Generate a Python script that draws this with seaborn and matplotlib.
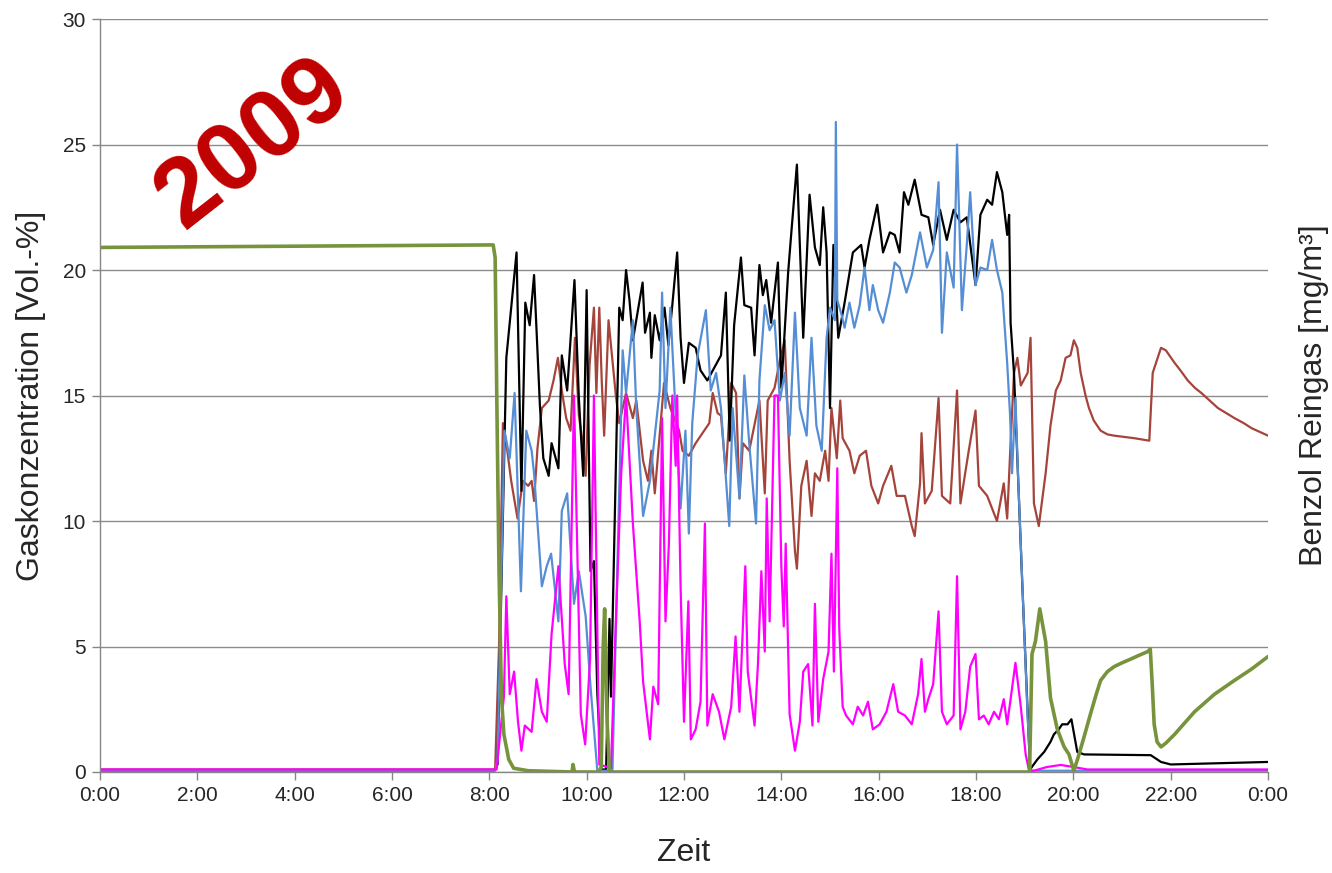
import matplotlib
matplotlib.use("Agg")
import matplotlib.pyplot as plt
import seaborn as sns
import pandas as pd

# (hour of day, value)
black_pts = [(0, 0.05), (8.1, 0.05), (8.17, 0.3), (8.35, 16.5), (8.56, 20.7), (8.66, 11.2), (8.74, 18.7),
             (8.83, 17.8), (8.92, 19.8), (9.04, 14.6), (9.11, 12.5), (9.22, 11.8), (9.28, 13.1), (9.42, 12.1),
             (9.49, 16.6), (9.6, 15.2), (9.75, 19.6), (9.84, 14.9), (9.93, 11.8), (10.0, 19.2), (10.08, 8.0),
             (10.15, 8.4), (10.22, 3.1), (10.3, 0.1), (10.4, 0.1), (10.47, 6.1), (10.5, 3.0), (10.67, 18.5),
             (10.74, 18.0), (10.81, 20.0), (10.88, 18.8), (10.95, 17.2), (11.15, 19.5), (11.2, 17.5),
             (11.3, 18.3), (11.33, 16.5), (11.4, 18.2), (11.5, 17.2), (11.6, 18.5), (11.68, 17.0),
             (11.76, 18.6), (11.86, 20.7), (11.93, 17.3), (12.0, 15.5), (12.1, 17.1), (12.24, 16.9),
             (12.34, 16.0), (12.48, 15.6), (12.62, 16.1), (12.76, 16.6), (12.86, 19.1), (12.94, 13.2),
             (13.03, 17.8), (13.17, 20.5), (13.24, 18.6), (13.38, 18.5), (13.45, 16.6), (13.55, 20.2),
             (13.62, 19.0), (13.69, 19.6), (13.79, 17.9), (13.93, 20.3), (14.0, 15.3), (14.14, 19.9),
             (14.21, 21.6), (14.32, 24.2), (14.45, 17.3), (14.58, 23.0), (14.69, 20.9), (14.79, 20.2),
             (14.86, 22.5), (14.93, 20.7), (15.0, 14.5), (15.07, 21.0), (15.17, 17.3), (15.3, 18.7),
             (15.47, 20.7), (15.64, 21.0), (15.71, 20.1), (15.81, 21.2), (15.97, 22.6), (16.09, 20.7),
             (16.23, 21.5), (16.33, 21.4), (16.43, 20.7), (16.52, 23.1), (16.61, 22.6), (16.74, 23.6),
             (16.88, 22.2), (17.02, 22.1), (17.12, 21.0), (17.26, 22.4), (17.4, 21.2), (17.54, 22.4),
             (17.68, 21.9), (17.81, 22.1), (17.99, 19.4), (18.09, 22.2), (18.23, 22.8), (18.33, 22.6),
             (18.43, 23.9), (18.54, 23.1), (18.64, 21.4), (18.68, 22.2), (18.71, 17.9), (18.78, 15.9),
             (18.95, 7.5), (19.11, 0.1), (19.26, 0.5), (19.4, 0.8), (19.53, 1.2), (19.6, 1.5), (19.7, 1.7),
             (19.77, 1.9), (19.88, 1.9), (19.96, 2.1), (20.08, 0.8), (20.22, 0.7), (21.59, 0.67),
             (21.8, 0.4), (22.0, 0.3), (24.0, 0.4)]

blue_pts = [(0, 0.05), (8.12, 0.05), (8.17, 0.5), (8.31, 13.6), (8.42, 12.5), (8.52, 15.1), (8.65, 7.2),
            (8.76, 13.6), (8.87, 12.8), (8.92, 11.9), (9.08, 7.4), (9.18, 8.2), (9.27, 8.7), (9.42, 6.0),
            (9.49, 10.4), (9.6, 11.1), (9.74, 6.7), (9.84, 8.0), (9.98, 6.2), (10.08, 3.4), (10.22, 0.05),
            (10.53, 0.05), (10.74, 16.8), (10.81, 15.1), (10.95, 18.0), (11.02, 14.5), (11.16, 10.2),
            (11.3, 11.6), (11.5, 15.2), (11.55, 19.1), (11.62, 14.5), (11.72, 18.5), (11.83, 14.2),
            (11.93, 10.5), (12.03, 13.6), (12.1, 9.5), (12.17, 13.9), (12.28, 16.6), (12.45, 18.4),
            (12.55, 15.2), (12.66, 15.9), (12.76, 14.5), (12.93, 9.8), (13.0, 14.5), (13.14, 10.9),
            (13.24, 15.8), (13.34, 13.1), (13.48, 9.9), (13.55, 15.6), (13.66, 18.6), (13.76, 17.6),
            (13.86, 18.0), (13.97, 14.8), (14.07, 15.9), (14.17, 13.4), (14.28, 18.3), (14.38, 14.5),
            (14.52, 13.4), (14.62, 17.3), (14.72, 13.8), (14.83, 12.8), (14.93, 17.3), (15.0, 18.5),
            (15.1, 18.0), (15.12, 25.9), (15.15, 18.8), (15.24, 18.2), (15.3, 17.7), (15.4, 18.7),
            (15.5, 17.7), (15.61, 18.6), (15.71, 20.1), (15.81, 18.4), (15.88, 19.4), (15.99, 18.4),
            (16.09, 17.9), (16.23, 19.1), (16.33, 20.3), (16.43, 20.1), (16.57, 19.1), (16.68, 19.8),
            (16.85, 21.5), (16.99, 20.1), (17.12, 20.8), (17.23, 23.5), (17.3, 17.5), (17.4, 20.7),
            (17.54, 19.3), (17.61, 25.0), (17.71, 18.4), (17.81, 21.0), (17.88, 23.1), (17.99, 19.4),
            (18.09, 20.1), (18.23, 20.0), (18.33, 21.2), (18.43, 20.0), (18.54, 19.1), (18.64, 16.3),
            (18.7, 14.2), (18.74, 11.9), (18.81, 14.9), (18.86, 12.0), (19.06, 2.2), (19.12, 0.05),
            (24, 0.05)]

brown_pts = [(0, 0.1), (8.12, 0.1), (8.2, 5.0), (8.28, 13.9), (8.35, 13.1), (8.45, 11.6), (8.58, 10.1),
             (8.69, 11.6), (8.8, 11.4), (8.87, 11.6), (8.92, 10.8), (8.99, 12.9), (9.08, 14.5), (9.22, 14.8),
             (9.32, 15.6), (9.41, 16.5), (9.49, 15.2), (9.58, 14.1), (9.67, 13.6), (9.76, 17.3), (9.84, 14.2),
             (9.92, 13.1), (9.98, 11.8), (10.06, 16.2), (10.15, 18.5), (10.2, 15.1), (10.26, 18.5),
             (10.31, 15.6), (10.36, 13.4), (10.45, 18.0), (10.6, 15.0), (10.67, 13.9), (10.81, 15.1),
             (10.95, 14.1), (11.02, 14.8), (11.16, 12.4), (11.26, 11.6), (11.33, 12.8), (11.4, 11.1),
             (11.59, 15.5), (11.72, 14.5), (11.9, 13.6), (11.97, 12.8), (12.1, 12.6), (12.24, 13.1),
             (12.38, 13.5), (12.52, 13.9), (12.59, 15.1), (12.69, 14.3), (12.76, 14.2), (12.86, 11.9),
             (12.97, 15.5), (13.07, 15.1), (13.14, 10.9), (13.21, 13.1), (13.34, 12.8), (13.55, 14.8),
             (13.66, 11.1), (13.72, 14.8), (13.86, 15.3), (13.97, 16.4), (14.07, 17.2), (14.17, 12.4),
             (14.28, 8.8), (14.32, 8.1), (14.41, 11.4), (14.52, 12.4), (14.62, 10.2), (14.69, 11.9),
             (14.79, 11.6), (14.9, 12.8), (14.97, 11.6), (15.03, 14.5), (15.14, 12.5), (15.21, 14.8),
             (15.26, 13.3), (15.4, 12.8), (15.5, 11.9), (15.61, 12.6), (15.74, 12.8), (15.85, 11.4),
             (15.99, 10.7), (16.09, 11.4), (16.26, 12.2), (16.37, 11.0), (16.54, 11.0), (16.68, 9.8),
             (16.74, 9.4), (16.85, 11.5), (16.88, 13.5), (16.95, 10.7), (17.09, 11.2), (17.23, 14.9),
             (17.3, 11.0), (17.47, 10.7), (17.61, 15.2), (17.68, 10.7), (17.85, 12.8), (17.99, 14.4),
             (18.06, 11.4), (18.23, 11.0), (18.43, 10.0), (18.57, 11.5), (18.64, 10.1), (18.71, 13.1),
             (18.78, 15.9), (18.85, 16.5), (18.92, 15.4), (19.06, 15.9), (19.12, 17.3), (19.19, 10.7),
             (19.29, 9.8), (19.43, 11.9), (19.53, 13.8), (19.64, 15.2), (19.74, 15.6), (19.84, 16.5),
             (19.94, 16.6), (20.01, 17.2), (20.08, 16.9), (20.15, 15.9), (20.25, 15.0), (20.32, 14.5),
             (20.42, 14.0), (20.56, 13.6), (20.7, 13.45), (20.84, 13.4), (21.25, 13.3), (21.56, 13.2),
             (21.63, 15.9), (21.8, 16.9), (21.9, 16.8), (22.08, 16.3), (22.2, 16.0), (22.35, 15.6),
             (22.5, 15.3), (22.63, 15.1), (22.8, 14.8), (22.97, 14.5), (23.14, 14.3), (23.31, 14.1),
             (23.5, 13.9), (23.66, 13.7), (23.83, 13.55), (24, 13.4)]

magenta_pts = [(0, 0.1), (8.15, 0.1), (8.3, 3.0), (8.35, 7.0), (8.42, 3.1), (8.51, 4.0), (8.59, 2.0),
               (8.66, 0.85), (8.73, 1.85), (8.87, 1.6), (8.97, 3.7), (9.08, 2.4), (9.18, 2.0), (9.28, 5.5),
               (9.42, 8.2), (9.55, 4.3), (9.63, 3.1), (9.74, 15.0), (9.88, 2.3), (9.97, 1.1), (10.07, 4.5),
               (10.15, 15.0), (10.26, 0.3), (10.5, 0.15), (10.6, 6.0), (10.71, 11.9), (10.81, 15.0),
               (10.95, 9.9), (11.09, 6.0), (11.16, 3.6), (11.3, 1.3), (11.37, 3.4), (11.47, 2.7),
               (11.55, 14.1), (11.62, 6.0), (11.69, 9.1), (11.76, 15.0), (11.83, 12.2), (11.86, 15.0),
               (11.93, 7.4), (12.0, 2.0), (12.09, 6.8), (12.14, 1.3), (12.24, 1.7), (12.34, 2.8),
               (12.43, 9.9), (12.48, 1.85), (12.59, 3.1), (12.72, 2.4), (12.83, 1.3), (12.97, 2.6),
               (13.06, 5.4), (13.14, 2.4), (13.26, 8.2), (13.31, 4.0), (13.45, 1.85), (13.52, 4.3),
               (13.59, 8.0), (13.66, 4.8), (13.7, 10.9), (13.76, 6.0), (13.86, 15.0), (13.93, 15.0),
               (14.0, 8.2), (14.05, 5.8), (14.09, 9.1), (14.17, 2.3), (14.28, 0.85), (14.38, 2.0),
               (14.45, 4.0), (14.55, 4.3), (14.64, 1.85), (14.69, 6.7), (14.76, 2.0), (14.86, 3.7),
               (14.97, 4.8), (15.03, 8.7), (15.08, 4.0), (15.15, 12.1), (15.19, 5.7), (15.26, 2.6),
               (15.33, 2.25), (15.47, 1.9), (15.57, 2.6), (15.68, 2.25), (15.78, 2.8), (15.88, 1.7),
               (16.02, 1.9), (16.16, 2.4), (16.3, 3.5), (16.4, 2.4), (16.54, 2.25), (16.68, 1.9),
               (16.81, 3.1), (16.88, 4.5), (16.95, 2.4), (17.02, 2.9), (17.12, 3.5), (17.23, 6.4),
               (17.3, 2.4), (17.4, 1.9), (17.54, 2.25), (17.61, 7.8), (17.68, 1.7), (17.78, 2.4),
               (17.88, 4.2), (17.99, 4.7), (18.06, 2.1), (18.16, 2.25), (18.26, 1.9), (18.37, 2.4),
               (18.47, 2.1), (18.57, 2.9), (18.64, 1.9), (18.71, 2.9), (18.81, 4.35), (18.92, 2.6),
               (19.02, 0.7), (19.09, 0.05), (19.19, 0.05), (19.46, 0.2), (19.74, 0.28), (20.0, 0.2),
               (20.29, 0.1), (24, 0.1)]

green_pts = [(0, 20.9), (8.08, 21.0), (8.12, 20.5), (8.16, 14.0), (8.2, 8.0), (8.25, 3.0), (8.3, 1.5),
             (8.4, 0.5), (8.5, 0.15), (8.8, 0.05), (9.7, 0.0), (9.72, 0.3), (9.75, 0.0), (10.25, 0.0),
             (10.3, 0.2), (10.34, 5.0), (10.37, 6.5), (10.42, 2.0), (10.47, 0.0), (19.1, 0.0), (19.15, 4.7),
             (19.22, 5.2), (19.31, 6.5), (19.43, 5.2), (19.53, 2.95), (19.67, 1.7), (19.81, 1.0),
             (19.91, 0.7), (20.01, 0.05), (20.1, 0.6), (20.22, 1.4), (20.35, 2.3), (20.47, 3.1),
             (20.56, 3.65), (20.7, 4.0), (20.84, 4.2), (21.0, 4.35), (21.18, 4.5), (21.35, 4.65),
             (21.53, 4.8), (21.58, 4.9), (21.62, 3.5), (21.66, 1.9), (21.72, 1.2), (21.8, 1.0),
             (21.9, 1.15), (22.08, 1.5), (22.49, 2.4), (22.9, 3.1), (23.31, 3.65), (23.66, 4.1), (24, 4.6)]

xtick_hours = list(range(0, 25, 2))
xtick_labels = [f"{h % 24}:00" for h in xtick_hours]

series = [
    (brown_pts, "#A5443B", 1.6),
    (black_pts, "black", 1.6),
    (blue_pts, "#558ED5", 1.6),
    (magenta_pts, "#FF00FF", 1.6),
    (green_pts, "#77933C", 2.6),
]

sns.set_theme(style="white")
plt.rcParams["font.family"] = ["Liberation Sans", "DejaVu Sans"]

fig = plt.figure(figsize=(13.32, 8.73), dpi=100)
ax = fig.add_axes([0.075, 0.1157, 0.877, 0.8625])

for pts, col, lw in series:
    df = pd.DataFrame(pts, columns=["t", "v"])
    sns.lineplot(data=df, x="t", y="v", ax=ax, color=col, linewidth=lw,
                 estimator=None, sort=False)

ax.set_xlim(0, 24)
ax.set_ylim(0, 30)
ax.set_xticks(xtick_hours)
ax.set_xticklabels(xtick_labels)
ax.set_yticks(range(0, 31, 5))
ax.tick_params(axis="both", labelsize=15, length=6, width=1, color="#868686",
               direction="out", left=True, bottom=True, pad=4)
ax.yaxis.grid(True, color="#8C8C8C", linewidth=1)
ax.xaxis.grid(False)
ax.set_axisbelow(True)
for s in ["top", "right"]:
    ax.spines[s].set_visible(False)
for s in ["left", "bottom"]:
    ax.spines[s].set_color("#868686")
    ax.spines[s].set_linewidth(1)

ax.set_xlabel("Zeit", fontsize=23, labelpad=24)
ax.set_ylabel("Gaskonzentration [Vol.-%]", fontsize=23, labelpad=12)

ax2 = ax.twinx()
ax2.set_ylim(0, 30)
ax2.set_yticks([])
for s in ax2.spines.values():
    s.set_visible(False)
ax2.set_ylabel("Benzol Reingas [mg/m³]", fontsize=23, labelpad=22)

ax.text(0.132, 0.834, "2009", transform=ax.transAxes, rotation=38, fontsize=70,
        fontweight="bold", color="#C00000", ha="center", va="center",
        rotation_mode="anchor")

fig.savefig("out.png", dpi=100)
